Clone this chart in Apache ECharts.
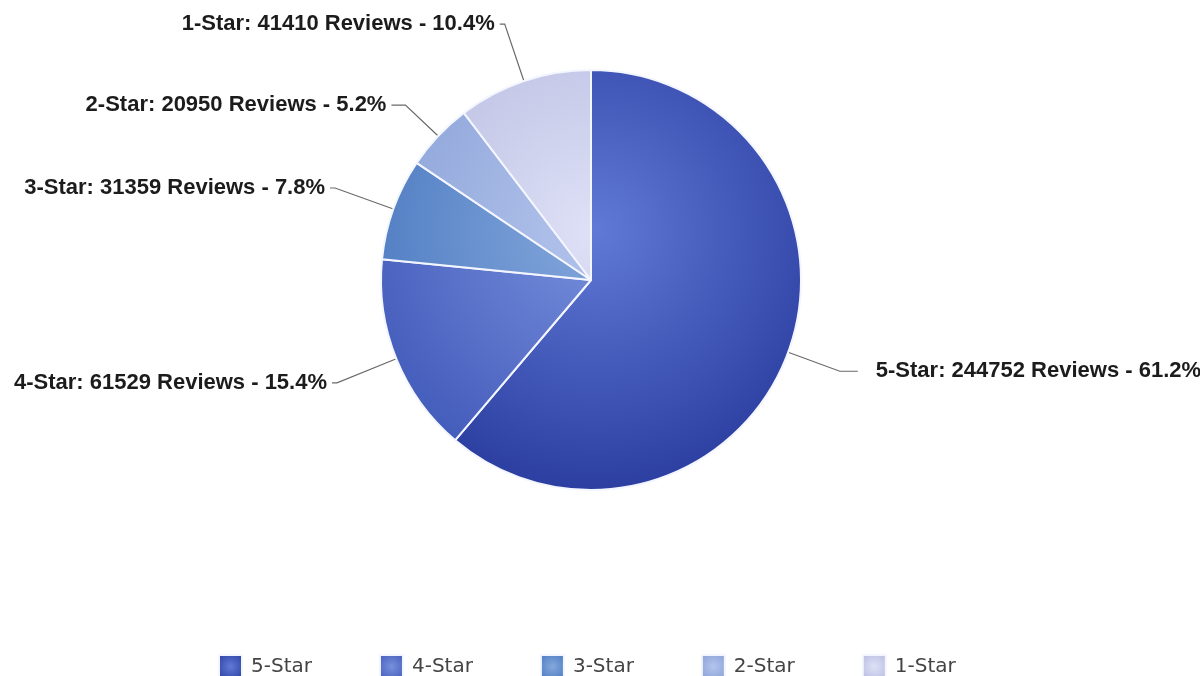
<!DOCTYPE html>
<html>
<head>
<meta charset="utf-8">
<title>Reviews by star rating</title>
<script src="https://cdn.jsdelivr.net/npm/echarts@6/dist/echarts.min.js"></script>
<style>
  html, body { margin: 0; padding: 0; background: #fff; }
  #reviewPie { width: 1200px; height: 676px; }
</style>
</head>
<body>
<div id="reviewPie"></div>
<script>
// star ratings, clockwise from 12 o'clock
const categories = ['5-Star', '4-Star', '3-Star', '2-Star', '1-Star']
const reviews = [244752, 61529, 31359, 20950, 41410]

// slice shading: [lighter middle, darker rim]
const shades = [
  ['#6079d6', '#2a3d9f'],
  ['#7890dc', '#4159b9'],
  ['#85a8dc', '#4877bf'],
  ['#b3c4ec', '#88a0d6'],
  ['#dfe1f7', '#b6bade']
]
// leader line [radial, horizontal, gap to text]
const leaders = [[55, 18, 18], [64, 5, 5], [62, 5, 5], [45, 14, 5], [60, 5, 5]]

const CX = 591
const CY = 280
const R = 210

function sliceFill(s) {
  return {
    type: 'radial', x: CX + 5, y: CY - 50, r: R + 60, global: true,
    colorStops: [{ offset: 0, color: s[0] }, { offset: 1, color: s[1] }]
  }
}

function iconFill(s) {
  return {
    type: 'radial', x: 0.5, y: 0.5, r: 0.7,
    colorStops: [{ offset: 0, color: s[0] }, { offset: 1, color: s[1] }]
  }
}

const pieData = categories.map((name, i) => ({
  name: name,
  value: reviews[i],
  itemStyle: { color: sliceFill(shades[i]) },
  label: { distanceToLabelLine: leaders[i][2] },
  labelLine: { length: leaders[i][0], length2: leaders[i][1] }
}))

const chart = echarts.init(document.getElementById('reviewPie'))

chart.setOption({
  animation: false,
  backgroundColor: '#ffffff',
  legend: {
    top: 649,
    left: 213,
    itemWidth: 23,
    itemHeight: 23,
    itemGap: 67,
    icon: 'rect',
    textStyle: { fontFamily: 'DejaVu Sans', fontSize: 20, color: '#444', padding: [0, 0, 0, 4] },
    data: categories.map((name, i) => ({ name: name, itemStyle: { color: iconFill(shades[i]) } }))
  },
  series: [{
    type: 'pie',
    left: 0, top: 0, bottom: 0, right: -400,
    center: [CX, CY],
    radius: R,
    startAngle: 90,
    clockwise: true,
    percentPrecision: 1,
    avoidLabelOverlap: false,
    itemStyle: { borderColor: '#f4f6ff', borderWidth: 2 },
    label: {
      formatter: '{b}: {c} Reviews - {d}%',
      fontFamily: 'Liberation Sans',
      fontWeight: 'bold',
      fontSize: 22,
      color: '#1c1c1c',
      overflow: 'none'
    },
    labelLine: { lineStyle: { color: '#6a6a6a', width: 1.2 } },
    emphasis: { disabled: true },
    data: pieData
  }]
})
</script>
</body>
</html>
